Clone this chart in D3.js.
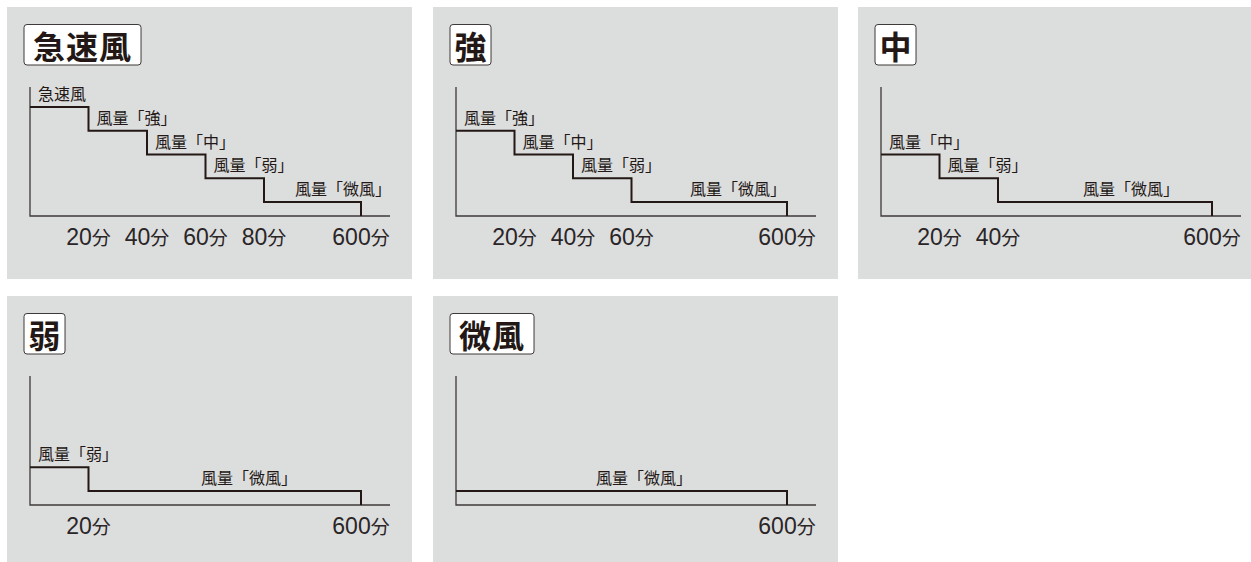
<!DOCTYPE html>
<html>
<head>
<meta charset="utf-8">
<script src="https://cdn.jsdelivr.net/npm/d3@7"></script>
<style>
  body { margin: 0; background: #fff; }
  text { font-family: "Noto Sans CJK JP", "Noto Sans", sans-serif; fill: #231815; }
  text.tick { font-family: "Liberation Sans", "Noto Sans CJK JP", sans-serif; fill: #2a2526; }
  text.tick tspan.unit { font-family: "Noto Sans CJK JP", sans-serif; }
</style>
</head>
<body>
<div id="chart"></div>
<script>
// operating modes, one panel each
const modes = ["急速風", "強", "中", "弱", "微風"]

// fan levels (5 = highest) and their labels
const levelValues = [5, 4, 3, 2, 1]
const levelLabels = ["急速風", "風量「強」", "風量「中」", "風量「弱」", "風量「微風」"]

// minutes at which each step ends, per mode
const schedules = [
  [20, 40, 60, 80, 600],
  [20, 40, 60, 600],
  [20, 40, 600],
  [20, 600],
  [600]
]

const tickSuffix = "分"

const W = 1251, H = 562
const PANEL = { W: 405, H: 272 }
const panelPos = [[7, 7], [433, 7], [858, 7], [7, 296], [433, 296]]
// centre of the last ("微風") label, relative to panel
const lastLabelCx = [336, 305, 273, 242, 211]

const svg = d3.select("#chart").append("svg")
  .attr("width", W)
  .attr("height", H)

// broken time axis: first 80 minutes evenly, then 600
const x = d3.scaleLinear()
  .domain([0, 20, 40, 60, 80, 600])
  .range([23, 81.5, 140, 198.5, 257, 354])

const y = d3.scaleLinear()
  .domain([1, 5])
  .range([195, 100])

const AXIS_Y = 209, AXIS_TOP = 80, AXIS_RIGHT = 383

modes.forEach((mode, i) => {
  const g = svg.append("g")
    .attr("transform", `translate(${panelPos[i][0]}, ${panelPos[i][1]})`)

  g.append("rect")
    .attr("width", PANEL.W)
    .attr("height", PANEL.H)
    .attr("fill", "#dcdddd")

  // title box
  const title = g.append("text")
    .attr("y", 51.5)
    .attr("font-size", "32px")
    .attr("font-weight", 700)
    .attr("letter-spacing", mode.length > 1 ? "1px" : null)
    .attr("text-anchor", "middle")
    .text(mode)
  const tw = title.node().getComputedTextLength()
  const pad = mode.length > 1 ? 9 : 4.5
  const bx = 17
  g.insert("rect", "text")
    .attr("x", bx)
    .attr("y", 17.5)
    .attr("width", tw + pad * 2)
    .attr("height", 40.5)
    .attr("rx", 3)
    .attr("fill", "#fff")
    .attr("stroke", "#3e3a39")
    .attr("stroke-width", 1)
  title.attr("x", bx + pad + tw / 2)

  // axes
  g.append("path")
    .attr("d", `M${x(0)},${AXIS_TOP}V${AXIS_Y}H${AXIS_RIGHT}`)
    .attr("fill", "none")
    .attr("stroke", "#3e3a39")
    .attr("stroke-width", 1.3)

  // steps for this mode
  const ends = schedules[i]
  const steps = ends.map((end, k) => ({
    start: k === 0 ? 0 : ends[k - 1],
    end: end,
    level: levelValues[i + k],
    label: levelLabels[i + k]
  }))

  const pts = []
  steps.forEach(s => {
    pts.push([x(s.start), y(s.level)])
    pts.push([x(s.end), y(s.level)])
  })
  pts.push([x(600), AXIS_Y])

  g.append("path")
    .attr("d", d3.line()(pts))
    .attr("fill", "none")
    .attr("stroke", "#231815")
    .attr("stroke-width", 2)

  // level labels
  steps.forEach((s, k) => {
    const last = k === steps.length - 1
    g.append("text")
      .attr("x", last ? lastLabelCx[i] : x(s.start) + 8)
      .attr("y", y(s.level) - 7)
      .attr("font-size", "16px")
      .attr("text-anchor", last ? "middle" : "start")
      .text(s.label)
  })

  // tick labels
  const ticks = g.selectAll(".tick")
    .data(ends)
    .enter().append("text")
      .attr("class", "tick")
      .attr("x", d => x(d))
      .attr("y", AXIS_Y + 29)
      .attr("font-size", "23px")
      .attr("text-anchor", "middle")
  ticks.append("tspan").text(d => d)
  ticks.append("tspan")
    .attr("class", "unit")
    .attr("font-size", "19px")
    .text(tickSuffix)
})
</script>
</body>
</html>
